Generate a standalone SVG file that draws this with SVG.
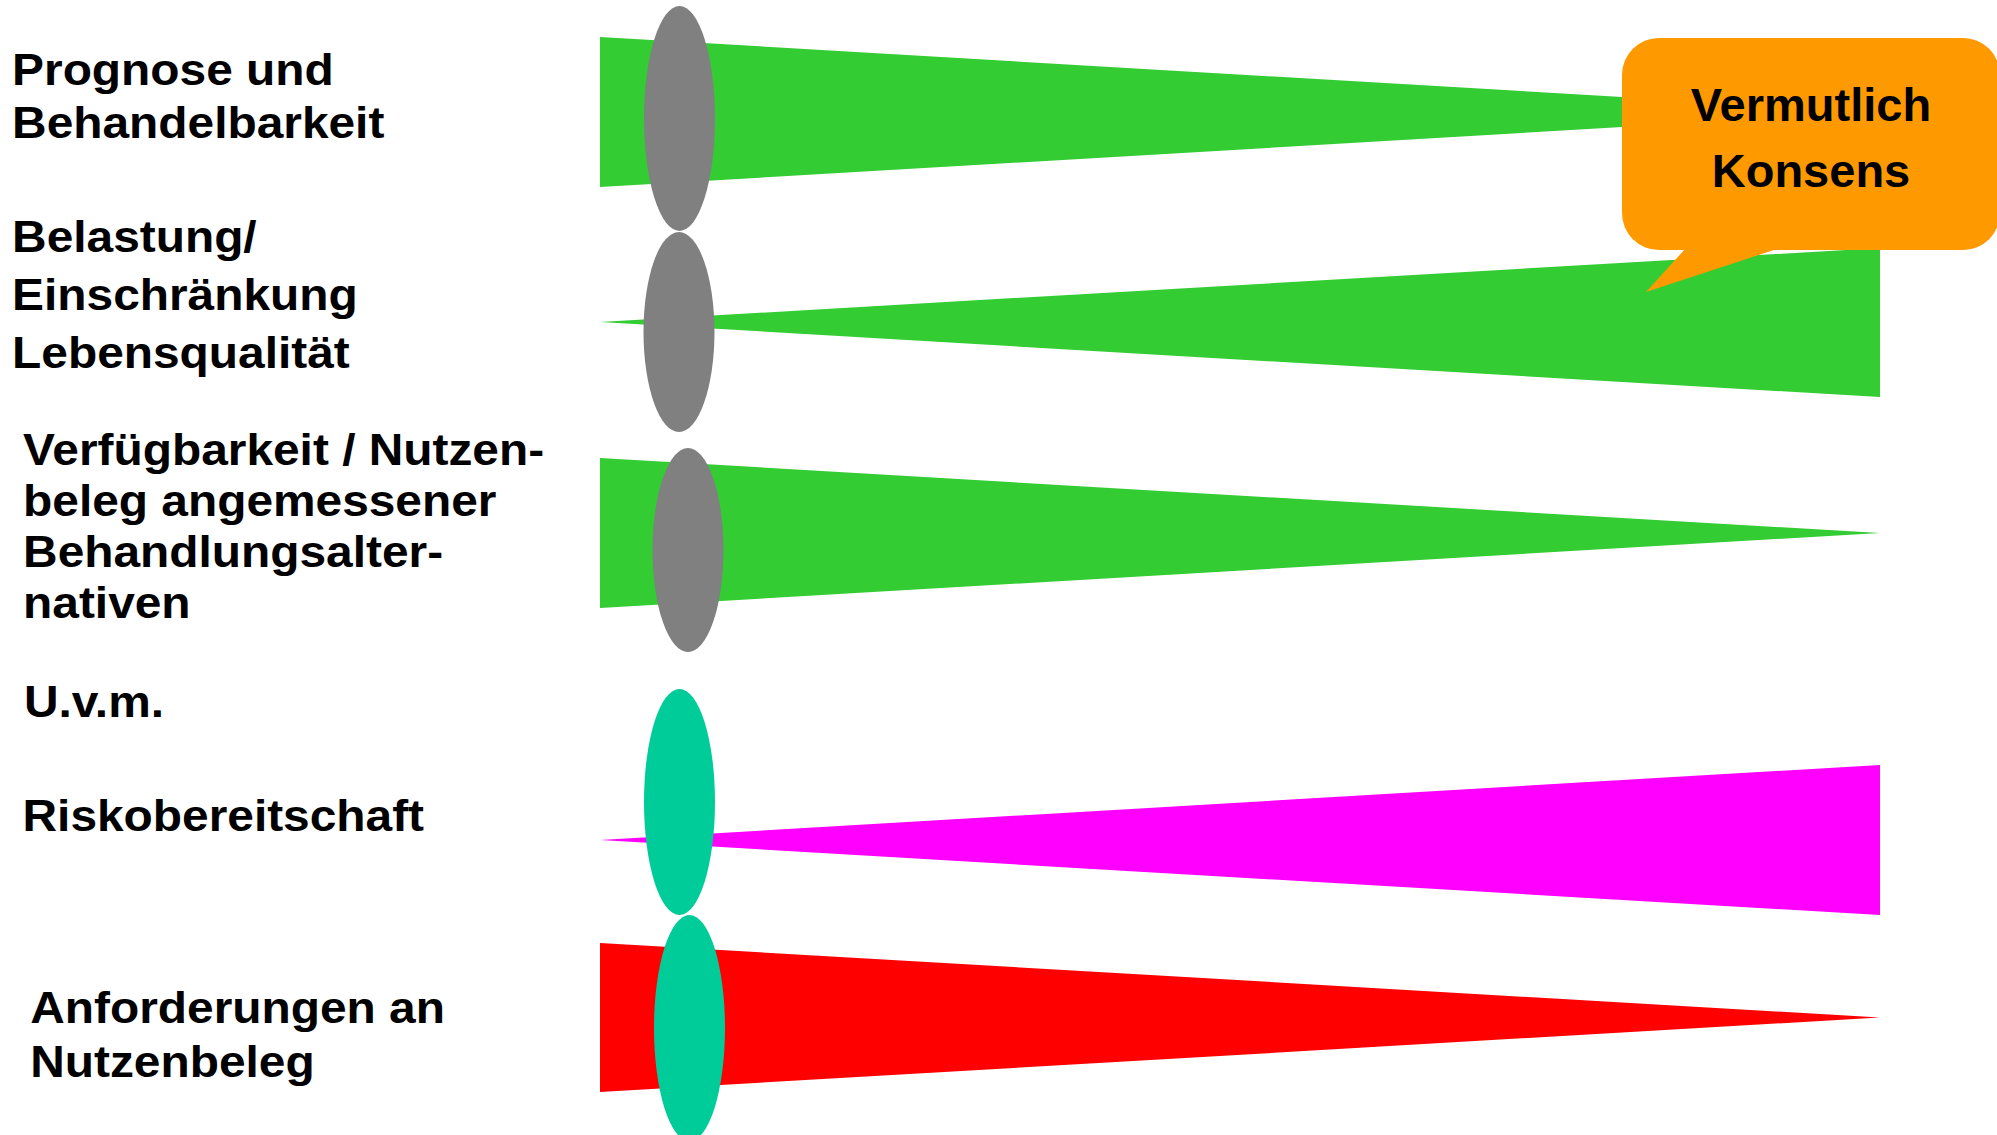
<svg xmlns="http://www.w3.org/2000/svg" width="1997" height="1135" viewBox="0 0 1997 1135">
  <style>
    .lbl { font-family: "Liberation Sans", Arial, sans-serif; font-weight: bold; font-size: 43.5px; fill: #000; }
    .call { font-family: "Liberation Sans", Arial, sans-serif; font-weight: bold; font-size: 47px; fill: #000; text-anchor: middle; }
    .green { fill: #33CC33; }
    .gray { fill: #808080; }
    .teal { fill: #00CC99; }
    .magenta { fill: #FF00FF; }
    .red { fill: #FF0000; }
    .orange { fill: #FF9900; }
  </style>
  <rect width="1997" height="1135" fill="#fff"/>

  <!-- row labels (slightly widened face) -->
  <g id="labels" transform="scale(1.1 1)">
    <text class="lbl" x="11" y="85">Prognose und</text>
    <text class="lbl" x="11" y="138">Behandelbarkeit</text>
    <text class="lbl" x="11" y="252">Belastung/</text>
    <text class="lbl" x="11" y="310">Einschränkung</text>
    <text class="lbl" x="11" y="368">Lebensqualität</text>
    <text class="lbl" x="21" y="465">Verfügbarkeit / Nutzen-</text>
    <text class="lbl" x="21" y="516">beleg angemessener</text>
    <text class="lbl" x="21" y="567">Behandlungsalter-</text>
    <text class="lbl" x="21" y="618">nativen</text>
    <text class="lbl" x="21.8" y="717">U.v.m.</text>
    <text class="lbl" x="20.5" y="831">Riskobereitschaft</text>
    <text class="lbl" x="27.5" y="1023">Anforderungen an</text>
    <text class="lbl" x="27.5" y="1077">Nutzenbeleg</text>
  </g>

  <!-- wedges: rows 1-3 -->
  <g id="row-prognose">
    <polygon class="green" points="600,37 1880,112 600,187"/>
    <ellipse class="gray" cx="679.5" cy="118.5" rx="35.5" ry="112.5"/>
  </g>
  <g id="row-belastung">
    <polygon class="green" points="600,322 1880,248 1880,397"/>
    <ellipse class="gray" cx="679" cy="332" rx="35.5" ry="100"/>
  </g>
  <g id="row-alternativen">
    <polygon class="green" points="600,458 1880,533 600,608"/>
    <ellipse class="gray" cx="688" cy="550" rx="35.5" ry="102"/>
  </g>

  <!-- wedges: rows 4-5 -->
  <g id="row-risiko">
    <polygon class="magenta" points="600,840 1880,765 1880,915"/>
    <ellipse class="teal" cx="679.5" cy="802" rx="35.5" ry="113"/>
  </g>
  <g id="row-nutzenbeleg">
    <polygon class="red" points="600,943 1880,1017.5 600,1092"/>
    <ellipse class="teal" cx="689.5" cy="1028" rx="35.5" ry="113"/>
  </g>

  <!-- speech bubble -->
  <g id="callout">
    <rect class="orange" x="1622" y="38" width="378" height="212" rx="37" ry="37"/>
    <polygon class="orange" points="1686,248 1646,292 1780,248"/>
    <text class="call" x="1811" y="121">Vermutlich</text>
    <text class="call" x="1811" y="187">Konsens</text>
  </g>
</svg>
